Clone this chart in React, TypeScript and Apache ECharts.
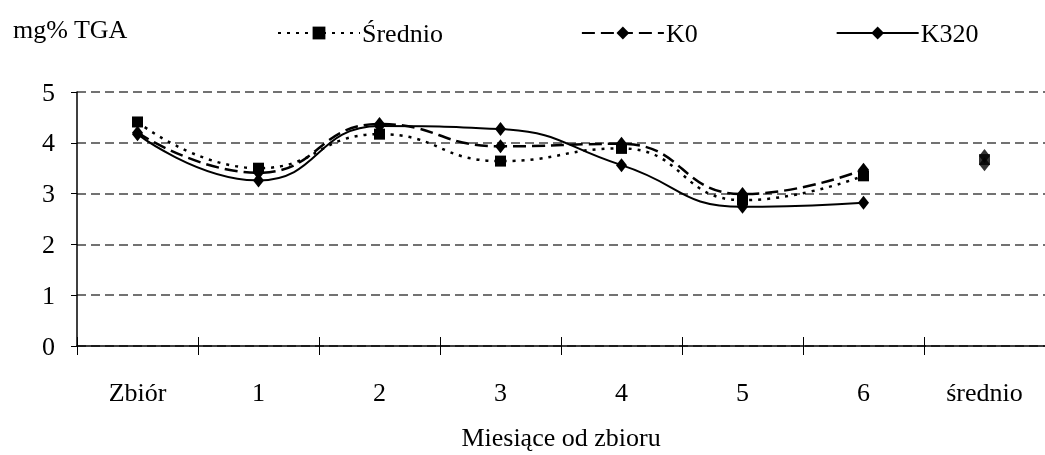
import React, { useEffect, useRef } from "react";
import * as echarts from "echarts";

const categories = ["Zbiór", "1", "2", "3", "4", "5", "6", "średnio"];
const sredVals = [4.41, 3.5, 4.17, 3.64, 3.89, 2.87, 3.35];
const k0Vals = [4.2, 3.41, 4.37, 3.93, 3.98, 2.99, 3.47];
const k320Vals = [4.17, 3.26, 4.33, 4.27, 3.56, 2.74, 2.82];
const avgSred = 3.67;
const avgK0 = 3.74;
const avgK320 = 3.58;
const yTicks = [0, 1, 2, 3, 4, 5];

const FONT = "Liberation Serif";
const FS = 26;

export default function App() {
  const ref = useRef<HTMLDivElement>(null);
  useEffect(() => {
    const chart = echarts.init(ref.current!, null, { renderer: "svg" });
    const lastIdx = categories.length - 1;
    const avgData = (v: number) => categories.map((_, i) => (i === lastIdx ? v : null));
    chart.setOption({
      animation: false,
      textStyle: { fontFamily: FONT, color: "#000" },
      title: {
        text: "mg% TGA",
        left: 8,
        top: 11,
        textStyle: { fontFamily: FONT, fontSize: FS, fontWeight: "normal", color: "#000" },
      },
      legend: {
        left: 272,
        top: 15,
        itemWidth: 82,
        itemHeight: 16,
        itemGap: 138,
        textStyle: { fontFamily: FONT, fontSize: FS, color: "#000", padding: [0, 0, 0, -3] },
        data: ["Średnio", "K0", "K320"],
      },
      grid: { left: 77, right: -2, top: 92, bottom: 102, containLabel: false },
      xAxis: [
        {
          type: "category",
          data: categories,
          boundaryGap: true,
          axisLine: { show: true, lineStyle: { color: "#000", width: 1.5 } },
          axisTick: { show: true, length: 9, inside: false, lineStyle: { color: "#000" } },
          axisLabel: { fontFamily: FONT, fontSize: FS, color: "#000", margin: 33 },
          name: "Miesiące od zbioru",
          nameLocation: "middle",
          nameGap: 78,
          nameTextStyle: { fontFamily: FONT, fontSize: FS, color: "#000" },
        },
        {
          type: "category",
          data: categories,
          position: "bottom",
          boundaryGap: true,
          axisLine: { show: false },
          axisTick: { show: true, length: 9, inside: true, lineStyle: { color: "#000" } },
          axisLabel: { show: false },
        },
      ],
      yAxis: {
        type: "value",
        min: 0,
        max: 5,
        interval: 1,
        axisLine: { show: true, lineStyle: { color: "#000", width: 1.5 } },
        axisTick: { show: true, length: 6, lineStyle: { color: "#000" } },
        axisLabel: { fontFamily: FONT, fontSize: FS, color: "#000", margin: 22, formatter: (v: number) => (yTicks.includes(v) ? String(v) : "") },
        splitLine: { show: true, lineStyle: { color: "#444", type: [9, 5], width: 1.5 } },
      },
      series: [
        {
          name: "Średnio",
          type: "line",
          data: sredVals,
          smooth: true,
          symbol: "rect",
          symbolSize: 11,
          itemStyle: { color: "#000" },
          lineStyle: { color: "#000", width: 2.5, type: [3, 6] },
          z: 3,
        },
        {
          name: "K0",
          type: "line",
          data: k0Vals,
          smooth: true,
          symbol: "diamond",
          symbolSize: [11, 14],
          itemStyle: { color: "#000" },
          lineStyle: { color: "#000", width: 2.5, type: [13, 6] },
          z: 4,
        },
        {
          name: "K320",
          type: "line",
          data: k320Vals,
          smooth: true,
          symbol: "diamond",
          symbolSize: [11, 14],
          itemStyle: { color: "#000" },
          lineStyle: { color: "#000", width: 2, type: "solid" },
          z: 5,
        },
        {
          name: "avgSred",
          type: "scatter",
          data: avgData(avgSred),
          symbol: "rect",
          symbolSize: 11,
          itemStyle: { color: "#000" },
        },
        {
          name: "avgK0",
          type: "scatter",
          data: avgData(avgK0),
          symbol: "diamond",
          symbolSize: [11, 14],
          itemStyle: { color: "#000" },
        },
        {
          name: "avgK320",
          type: "scatter",
          data: avgData(avgK320),
          symbol: "diamond",
          symbolSize: [11, 14],
          itemStyle: { color: "#000" },
        },
      ],
    });
    return () => chart.dispose();
  }, []);
  return <div ref={ref} style={{ position: "fixed", left: 0, top: 0, width: 1045, height: 455 }} />;
}
